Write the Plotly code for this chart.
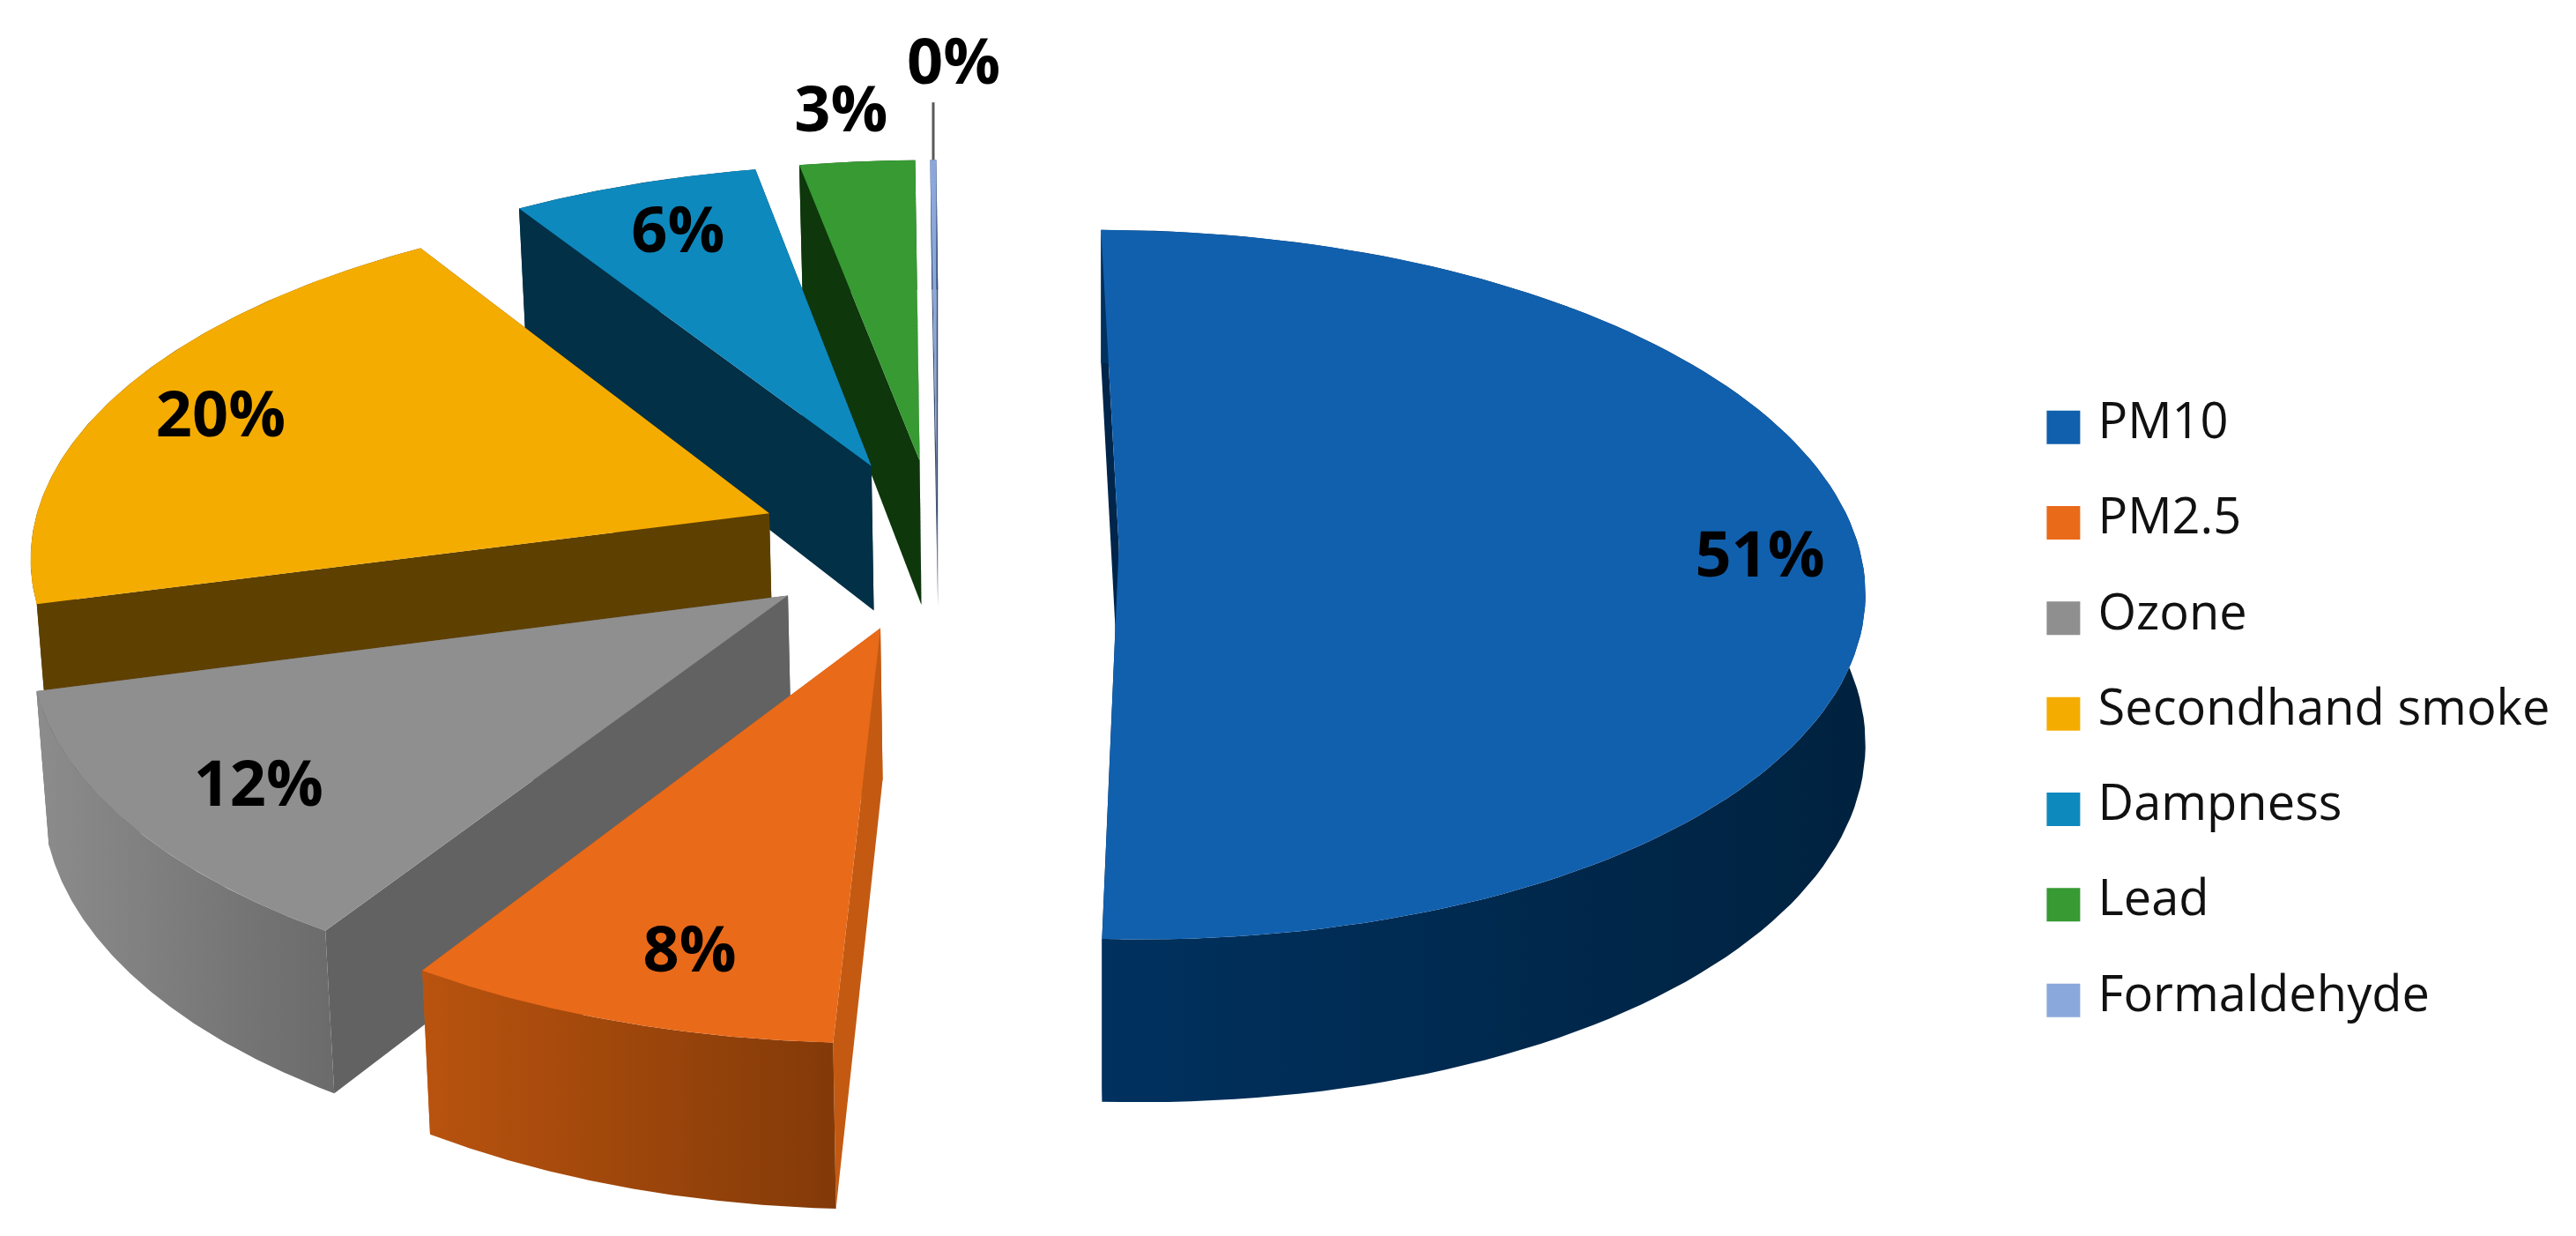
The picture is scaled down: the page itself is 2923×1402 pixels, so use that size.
import numpy as np
import plotly.graph_objects as go

categories = ["PM10", "PM2.5", "Ozone", "Secondhand smoke", "Dampness", "Lead", "Formaldehyde"]
values = [50.85, 8.35, 11.8, 20.1, 6.1, 2.85, 0.15]
labels = ["51%", "8%", "12%", "20%", "6%", "3%", "0%"]

top_colors = ["#1160AE", "#E96A19", "#8F8F8F", "#F5AC00", "#0E89BE", "#379A33", "#8AA8DC"]
side_colors = ["#00254A", "#C45A12", "#626262", "#5E4000", "#023047", "#0E370C", "#3A4C70"]
wall_left = ["#00315F", "#B9530F", "#8C8C8C", "#5E4000", "#023047", "#0E370C", "#3A4C70"]
wall_right = ["#00223F", "#833A08", "#6B6B6B", "#5E4000", "#023047", "#0E370C", "#3A4C70"]

# far slices first, so the nearer ones paint over them
draw_order = [0, 6, 5, 4, 3, 2, 1]
label_radius = [0.86, 0.83, 0.83, 0.83, 0.83, 1.2, 1.38]
label_dx = [2, 15, 7, -3, 4, -3, 13]
LABEL_DY = 4.5

# projection of the tilted pie, in the 1568x752 frame used by the axes
VX, VY = 570.4, 331
RX, RY = 450, 213
PERSP = 0.1087
PULL = 0.2458
BOTTOM_LEAN = 0.012


def project(pu, pv):
    w = 1 + PERSP * pv
    return VX + RX * pu / w, VY - RY * pv / w


def depth(pv):
    return 90 - 9 * pv


def bottom(pu, pv):
    x, y = project(pu, pv)
    return x + np.maximum(0, 650 - x) * BOTTOM_LEAN, y + depth(pv)


def polygon(x, y, color=None, gradient=None):
    trace = dict(x=x, y=y, mode="lines", fill="toself", line=dict(width=0),
                 hoverinfo="skip", showlegend=False)
    if gradient:
        trace["fillgradient"] = dict(type="horizontal", colorscale=[[0, gradient[0]], [1, gradient[1]]])
    else:
        trace["fillcolor"] = color
    return go.Scatter(**trace)


fractions = np.array(values) / sum(values) * 2 * np.pi
ends = np.cumsum(fractions)
starts = ends - fractions

fig = go.Figure()
for i in draw_order:
    mid = (starts[i] + ends[i]) / 2
    off_u, off_v = PULL * np.sin(mid), PULL * np.cos(mid)
    theta = np.linspace(starts[i], ends[i], 120)
    pu = off_u + np.sin(theta)
    pv = off_v + np.cos(theta)

    top_x, top_y = project(pu, pv)
    bot_x, bot_y = bottom(pu, pv)
    apex_x, apex_y = project(off_u, off_v)
    apex_bx, apex_by = bottom(off_u, off_v)

    # the two cut faces
    fig.add_trace(polygon([apex_x, top_x[0], bot_x[0], apex_bx], [apex_y, top_y[0], bot_y[0], apex_by], side_colors[i]))
    fig.add_trace(polygon([apex_x, top_x[-1], bot_x[-1], apex_bx], [apex_y, top_y[-1], bot_y[-1], apex_by], side_colors[i]))
    # outer rim
    fig.add_trace(polygon(np.r_[top_x, bot_x[::-1]], np.r_[top_y, bot_y[::-1]],
                          gradient=(wall_left[i], wall_right[i])))
    # top face
    fig.add_trace(polygon(np.r_[apex_x, top_x], np.r_[apex_y, top_y], top_colors[i]))

# data labels
label_x, label_y = [], []
for i, r in enumerate(label_radius):
    mid = (starts[i] + ends[i]) / 2
    x, y = project((PULL + r) * np.sin(mid), (PULL + r) * np.cos(mid))
    label_x.append(x + label_dx[i])
    label_y.append(y + LABEL_DY)
fig.add_trace(go.Scatter(x=label_x, y=label_y, mode="text", text=labels, showlegend=False, hoverinfo="skip",
                         textfont=dict(family="Open Sans", size=72, color="#000000", weight="bold")))

# leader line of the smallest slice
i = len(values) - 1
mid = (starts[i] + ends[i]) / 2
lx, ly = project((PULL + 1) * np.sin(mid), (PULL + 1) * np.cos(mid))
fig.add_trace(go.Scatter(x=[lx, lx], y=[ly, ly - 35], mode="lines", line=dict(color="#595959", width=3),
                         showlegend=False, hoverinfo="skip"))

# legend, one row per category
for i, name in enumerate(categories):
    row_y = 260 + i * 58.1
    fig.add_trace(go.Scatter(x=[1256], y=[row_y], mode="markers", showlegend=False, name=name,
                             marker=dict(symbol="square", size=38, color=top_colors[i])))
    fig.add_trace(go.Scatter(x=[1277], y=[row_y - 1], mode="text", text=[name], textposition="middle right",
                             showlegend=False, hoverinfo="skip",
                             textfont=dict(family="Open Sans", size=56, color="#111111")))

fig.update_xaxes(range=[0, 1568], visible=False, fixedrange=True)
fig.update_yaxes(range=[752, 0], visible=False, fixedrange=True)
fig.update_layout(width=2923, height=1402, margin=dict(l=0, r=0, t=0, b=0),
                  paper_bgcolor="#FFFFFF", plot_bgcolor="#FFFFFF", showlegend=False)
fig.write_html("out.html", config={"displayModeBar": False}, post_script="document.body.style.margin='0';")
